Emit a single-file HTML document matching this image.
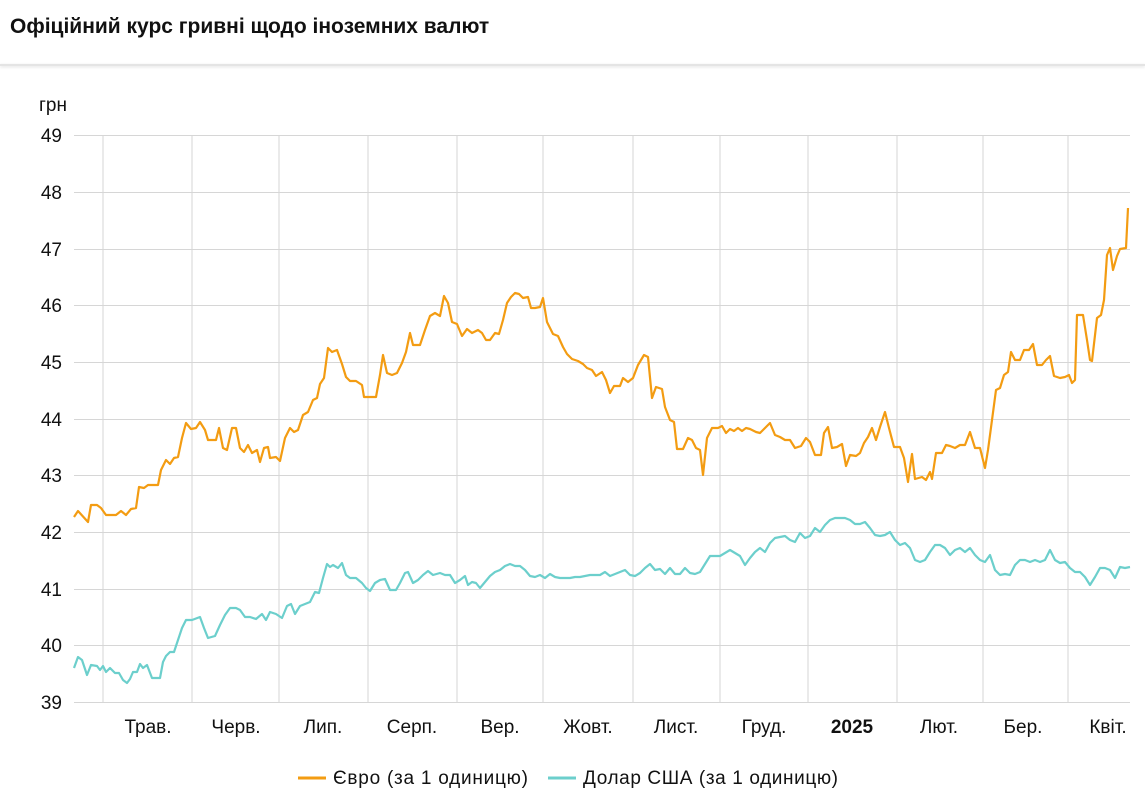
<!DOCTYPE html>
<html><head><meta charset="utf-8"><style>
body{margin:0;background:#fff;font-family:"Liberation Sans",Arial,sans-serif;}
.t{position:absolute;left:10px;top:15px;font-size:21px;font-weight:bold;color:#111;}
.sep{position:absolute;left:0;top:64px;width:1145px;height:2px;background:#e4e4e4;box-shadow:0 1px 3px #ddd;}
</style></head><body>
<div class="t">Офіційний курс гривні щодо іноземних валют</div>
<div class="sep"></div>
<svg width="1145" height="807" style="position:absolute;left:0;top:0" font-family="Liberation Sans, Arial, sans-serif">
<g stroke="#d6d6d6" stroke-width="1">
<line x1="74" x2="1130" y1="135.5" y2="135.5"/><line x1="74" x2="1130" y1="192.5" y2="192.5"/><line x1="74" x2="1130" y1="249.5" y2="249.5"/><line x1="74" x2="1130" y1="305.5" y2="305.5"/><line x1="74" x2="1130" y1="362.5" y2="362.5"/><line x1="74" x2="1130" y1="419.5" y2="419.5"/><line x1="74" x2="1130" y1="475.5" y2="475.5"/><line x1="74" x2="1130" y1="532.5" y2="532.5"/><line x1="74" x2="1130" y1="589.5" y2="589.5"/><line x1="74" x2="1130" y1="645.5" y2="645.5"/><line x1="74" x2="1130" y1="702.5" y2="702.5"/>
<line x1="103" x2="103" y1="135" y2="702"/><line x1="192" x2="192" y1="135" y2="702"/><line x1="279" x2="279" y1="135" y2="702"/><line x1="368" x2="368" y1="135" y2="702"/><line x1="457" x2="457" y1="135" y2="702"/><line x1="543" x2="543" y1="135" y2="702"/><line x1="633" x2="633" y1="135" y2="702"/><line x1="720" x2="720" y1="135" y2="702"/><line x1="808" x2="808" y1="135" y2="702"/><line x1="897" x2="897" y1="135" y2="702"/><line x1="983" x2="983" y1="135" y2="702"/><line x1="1068" x2="1068" y1="135" y2="702"/>
</g>
<g font-size="19" fill="#111" text-anchor="end">
<text x="62" y="142">49</text><text x="62" y="199">48</text><text x="62" y="256">47</text><text x="62" y="312">46</text><text x="62" y="369">45</text><text x="62" y="426">44</text><text x="62" y="482">43</text><text x="62" y="539">42</text><text x="62" y="596">41</text><text x="62" y="652">40</text><text x="62" y="709">39</text>
</g>
<text x="39" y="111" font-size="19" fill="#111">грн</text>
<g font-size="19" fill="#111" text-anchor="middle">
<text x="148" y="733">Трав.</text><text x="236" y="733">Черв.</text><text x="323" y="733">Лип.</text><text x="412" y="733">Серп.</text><text x="500" y="733">Вер.</text><text x="588" y="733">Жовт.</text><text x="676" y="733">Лист.</text><text x="764" y="733">Груд.</text><text x="852" y="733" font-weight="bold">2025</text><text x="939" y="733">Лют.</text><text x="1023" y="733">Бер.</text><text x="1108" y="733">Квіт.</text>
</g>
<polyline fill="none" stroke="#f39c12" stroke-width="2.2" stroke-linejoin="round" points="74,517 78,511 88,522 91,505 97,505 101,508 106,515 116,515 121,511 126,515 131,509 136,508 139,487 144,488 148,485 158,485 161,470 166,460 170,464 174,458 178,457 182,438 186,423 191,429 196,428 200,422 205,430 208,440 216,440 219,428 223,448 227,450 232,428 236,428 240,448 244,452 248,445 252,453 257,450 260,462 264,448 268,447 270,458 276,457 280,461 285,438 290,428 294,432 298,430 303,415 308,412 313,400 317,398 320,384 324,378 328,348 332,352 337,350 342,364 346,377 350,381 356,381 362,385 364,397 376,397 380,375 383,355 387,373 392,375 397,373 402,363 406,352 410,333 413,345 420,345 425,330 430,316 435,313 440,316 444,296 448,303 452,322 457,324 462,336 467,329 472,333 478,330 482,333 486,340 490,340 495,333 499,334 503,320 507,303 511,297 515,293 519,294 523,298 528,297 531,308 535,308 540,307 543,298 547,322 553,334 558,336 563,347 567,354 572,359 578,361 583,364 587,368 592,370 596,376 602,372 606,380 610,393 614,386 620,386 623,378 628,382 633,378 638,365 644,355 648,357 652,398 656,387 662,389 665,407 670,420 674,422 677,449 683,449 688,438 692,440 696,448 700,450 703,475 707,438 712,428 718,428 722,426 726,433 730,429 734,431 738,428 742,431 746,428 750,429 756,432 760,433 765,428 770,423 775,435 780,437 785,440 790,440 795,448 801,446 806,438 810,442 815,455 821,455 824,433 828,427 832,448 837,447 842,444 846,466 850,455 856,456 860,453 864,443 868,437 872,428 876,440 880,427 885,412 889,428 894,447 900,447 904,458 908,482 912,454 915,479 922,477 926,480 930,472 932,479 936,453 942,453 946,445 950,446 955,448 960,445 965,445 970,432 975,448 980,448 985,468 988,450 992,420 996,390 1000,388 1004,375 1008,372 1011,352 1015,360 1020,360 1024,350 1029,350 1033,344 1037,365 1042,365 1046,360 1050,356 1054,376 1060,378 1065,377 1069,375 1072,383 1075,380 1077,315 1083,315 1087,340 1090,360 1092,361 1097,318 1101,315 1104,300 1107,255 1110,248 1113,270 1117,256 1120,249 1126,248 1128,208"/>
<polyline fill="none" stroke="#6ccfcc" stroke-width="2.2" stroke-linejoin="round" points="74,668 78,657 82,660 87,675 91,665 97,666 100,670 103,666 106,672 110,668 115,673 119,673 123,680 127,683 130,679 133,672 137,672 140,664 143,668 147,665 152,678 160,678 163,662 166,656 170,652 174,652 178,640 182,628 186,620 192,620 200,617 204,628 208,638 215,636 220,625 225,615 230,608 236,608 240,610 245,617 250,617 256,619 262,614 266,620 270,612 276,614 282,618 287,606 291,604 295,614 300,606 305,604 310,602 315,592 319,593 323,578 327,564 330,567 333,565 338,568 342,563 346,575 350,578 356,578 362,583 366,588 370,591 375,583 380,580 385,579 390,590 396,590 400,583 405,573 408,572 413,583 418,580 423,575 428,571 433,575 440,573 445,575 450,575 455,583 460,580 465,576 468,585 472,582 476,583 480,588 485,582 490,576 495,572 500,570 505,566 510,564 515,566 520,566 525,570 530,576 535,577 540,575 545,578 550,574 555,577 560,578 565,578 570,578 575,577 580,577 585,576 590,575 595,575 600,575 605,572 610,576 615,574 620,572 625,570 630,575 635,576 640,573 645,568 650,564 655,570 660,569 665,574 670,568 675,574 680,574 685,568 690,573 695,574 700,572 705,564 710,556 715,556 720,556 725,553 730,550 735,553 740,556 745,565 750,558 755,552 760,548 765,552 770,543 775,538 780,537 785,536 790,540 795,542 800,533 805,538 810,536 815,528 820,532 825,525 830,520 835,518 840,518 845,518 850,520 855,524 860,524 865,522 870,528 875,535 880,536 885,535 890,532 895,540 900,545 905,543 910,548 915,560 920,562 925,560 930,552 935,545 940,545 945,548 950,555 955,550 960,548 965,552 970,548 975,555 980,560 985,562 990,555 995,570 1000,575 1005,574 1010,575 1015,565 1020,560 1025,560 1030,562 1035,560 1040,562 1045,560 1050,550 1055,560 1060,563 1065,562 1070,568 1075,572 1080,572 1085,577 1090,585 1095,577 1100,568 1105,568 1110,570 1115,578 1120,567 1125,568 1130,567"/>
<line x1="298" x2="326" y1="778" y2="778" stroke="#f39c12" stroke-width="3"/>
<text x="333" y="784" font-size="19" fill="#111" textLength="195">Євро (за 1 одиницю)</text>
<line x1="548" x2="576" y1="778" y2="778" stroke="#6ccfcc" stroke-width="3"/>
<text x="583" y="784" font-size="19" fill="#111" textLength="255">Долар США (за 1 одиницю)</text>
</svg>
</body></html>
